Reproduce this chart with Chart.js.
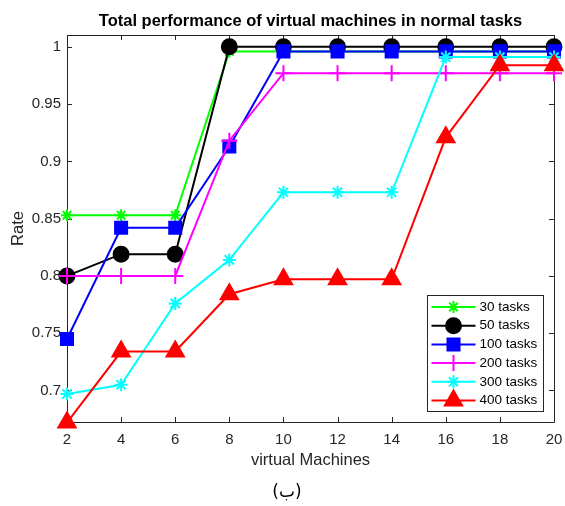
<!DOCTYPE html>
<html>
<head>
<meta charset="utf-8">
<script src="https://cdn.jsdelivr.net/npm/chart.js@4.4.1/dist/chart.umd.min.js"></script>
<style>
  html, body { margin: 0; padding: 0; background: #ffffff; }
  #wrap { width: 565px; height: 506px; }
</style>
</head>
<body>
<div id="wrap"><canvas id="c" width="565" height="506"></canvas></div>
<script>
// Number of virtual machines on the x axis
const machines = [2, 4, 6, 8, 10, 12, 14, 16, 18, 20];

// Rate per task load
const tasks30  = [0.853, 0.853, 0.853, 0.996, 0.996, 0.996, 0.996, 0.996, 0.996, 0.996];
const tasks50  = [0.800, 0.819, 0.819, 1.000, 1.000, 1.000, 1.000, 1.000, 1.000, 1.000];
const tasks100 = [0.745, 0.842, 0.842, 0.913, 0.996, 0.996, 0.996, 0.996, 0.996, 0.996];
const tasks200 = [0.800, 0.800, 0.800, 0.918, 0.977, 0.977, 0.977, 0.977, 0.977, 0.977];
const tasks300 = [0.697, 0.705, 0.776, 0.814, 0.873, 0.873, 0.873, 0.991, 0.991, 0.991];
const tasks400 = [0.672, 0.734, 0.734, 0.784, 0.797, 0.797, 0.797, 0.921, 0.984, 0.984];

const seriesLabels = ['30 tasks', '50 tasks', '100 tasks', '200 tasks', '300 tasks', '400 tasks'];
const xTickValues = [2, 4, 6, 8, 10, 12, 14, 16, 18, 20];
const yTickValues = [0.7, 0.75, 0.8, 0.85, 0.9, 0.95, 1];
const yTickLabels = ['0.7', '0.75', '0.8', '0.85', '0.9', '0.95', '1'];

const chartTitle = 'Total performance of virtual machines in normal tasks';
const panelLabel = '(ب)';

const axisColor = '#262626';
const baseFont = 'Arial, "Liberation Sans", Helvetica, sans-serif';

function series(values) {
  return machines.map((m, i) => ({ x: m, y: values[i] }));
}

const styles = [
  { color: '#00ff00', pointStyle: 'star',     radius: 6,   order: 6 },
  { color: '#000000', pointStyle: 'circle',   radius: 7.5, order: 5 },
  { color: '#0000ff', pointStyle: 'rect',     radius: 8.5, order: 4 },
  { color: '#ff00ff', pointStyle: 'cross',    radius: 8,   order: 3 },
  { color: '#00ffff', pointStyle: 'star',     radius: 6.5, order: 2 },
  { color: '#ff0000', pointStyle: 'triangle', radius: 10,  order: 1 }
];
const allValues = [tasks30, tasks50, tasks100, tasks200, tasks300, tasks400];

const datasets = allValues.map((vals, i) => ({
  label: seriesLabels[i],
  data: series(vals),
  borderColor: styles[i].color,
  backgroundColor: styles[i].color,
  pointBackgroundColor: styles[i].color,
  pointBorderColor: styles[i].color,
  pointStyle: styles[i].pointStyle,
  pointRadius: styles[i].radius,
  pointBorderWidth: 2,
  borderWidth: 2,
  tension: 0,
  showLine: true,
  clip: false,
  order: styles[i].order
}));

// Box outline with inward tick marks, title over the axes, legend and panel label
const boxPlugin = {
  id: 'boxTicks',
  beforeDatasetsDraw(chart) {
    const { ctx, chartArea: a, scales } = chart;
    const len = 5;
    ctx.save();
    ctx.strokeStyle = axisColor;
    ctx.lineWidth = 1;
    ctx.beginPath();
    ctx.rect(Math.round(a.left) + 0.5, Math.round(a.top) + 0.5,
             Math.round(a.right - a.left), Math.round(a.bottom - a.top));
    xTickValues.forEach(v => {
      const px = Math.round(scales.x.getPixelForValue(v)) + 0.5;
      ctx.moveTo(px, a.bottom); ctx.lineTo(px, a.bottom - len);
      ctx.moveTo(px, a.top);    ctx.lineTo(px, a.top + len);
    });
    yTickValues.forEach(v => {
      const py = Math.round(scales.y.getPixelForValue(v)) + 0.5;
      ctx.moveTo(a.left, py);  ctx.lineTo(a.left + len, py);
      ctx.moveTo(a.right, py); ctx.lineTo(a.right - len, py);
    });
    ctx.stroke();

    ctx.fillStyle = '#000000';
    ctx.textAlign = 'center';
    ctx.textBaseline = 'middle';
    ctx.font = 'bold 16.5px ' + baseFont;
    ctx.fillText(chartTitle, (a.left + a.right) / 2, a.top - 14);
    ctx.font = '17px "DejaVu Sans", Arial, sans-serif';
    ctx.fillText(panelLabel, 287, 493);
    ctx.restore();
  },
  afterDatasetsDraw(chart) {
    const { ctx, chartArea: a } = chart;
    const w = 116, h = 116;
    const x0 = Math.round(a.right - 11 - w) + 0.5;
    const y0 = Math.round(a.bottom - 11 - h) + 0.5;
    ctx.save();
    ctx.fillStyle = '#ffffff';
    ctx.fillRect(x0, y0, w, h);
    ctx.strokeStyle = axisColor;
    ctx.lineWidth = 1;
    ctx.strokeRect(x0, y0, w, h);
    ctx.font = '13.5px ' + baseFont;
    ctx.textBaseline = 'middle';
    ctx.textAlign = 'left';
    chart.data.datasets.forEach((ds, i) => {
      const yy = y0 + 11.5 + i * 18.7;
      const lx0 = x0 + 4, lx1 = x0 + 48, mx = (lx0 + lx1) / 2;
      ctx.strokeStyle = ds.borderColor;
      ctx.fillStyle = ds.borderColor;
      ctx.lineWidth = 2;
      ctx.beginPath();
      ctx.moveTo(lx0, yy); ctx.lineTo(lx1, yy);
      ctx.stroke();
      Chart.helpers.drawPoint(ctx, {
        pointStyle: ds.pointStyle, radius: ds.pointRadius, rotation: 0, borderWidth: 2
      }, mx, yy);
      ctx.fillStyle = '#000000';
      ctx.fillText(ds.label, x0 + 52, yy);
    });
    ctx.restore();
  }
};

new Chart(document.getElementById('c'), {
  type: 'scatter',
  data: { datasets },
  plugins: [boxPlugin],
  options: {
    responsive: false,
    animation: false,
    devicePixelRatio: 1,
    events: [],
    layout: { padding: { left: 0, right: 11, top: 35, bottom: 26 }, autoPadding: false },
    plugins: {
      legend: { display: false },
      tooltip: { enabled: false },
      title: { display: false }
    },
    scales: {
      x: {
        type: 'linear',
        min: 2,
        max: 20,
        grid: { display: false, drawTicks: false },
        border: { display: false },
        afterBuildTicks: s => { s.ticks = xTickValues.map(v => ({ value: v })); },
        afterFit: s => { s.height = 58; s.paddingLeft = 0; s.paddingRight = 0; },
        ticks: {
          color: axisColor,
          padding: 9,
          maxRotation: 0,
          font: { family: baseFont, size: 15 },
          callback: v => String(v)
        },
        title: {
          display: true,
          text: 'virtual Machines',
          color: axisColor,
          font: { family: baseFont, size: 16.5, lineHeight: 1.2 },
          padding: { top: 0, bottom: 10 }
        }
      },
      y: {
        type: 'linear',
        min: 0.6725,
        max: 1.0103,
        grid: { display: false, drawTicks: false },
        border: { display: false },
        afterBuildTicks: s => { s.ticks = yTickValues.map(v => ({ value: v })); },
        afterFit: s => { s.width = 67; s.paddingTop = 0; s.paddingBottom = 0; },
        ticks: {
          color: axisColor,
          padding: 6,
          font: { family: baseFont, size: 15 },
          callback: (v) => {
            const k = yTickValues.indexOf(v);
            return k >= 0 ? yTickLabels[k] : '';
          }
        },
        title: {
          display: true,
          text: 'Rate',
          color: axisColor,
          font: { family: baseFont, size: 16.5, lineHeight: 1.2 },
          padding: { top: 9, bottom: 0 }
        }
      }
    }
  }
});
</script>
</body>
</html>
